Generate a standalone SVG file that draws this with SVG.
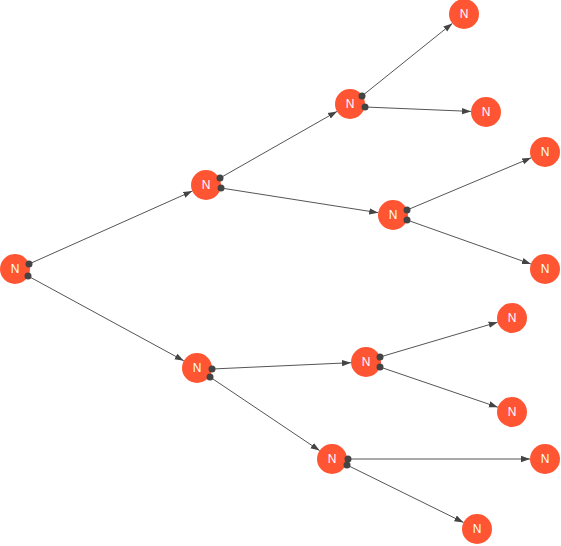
<svg xmlns="http://www.w3.org/2000/svg" width="561" height="546" viewBox="0 0 561 546">
<style>
.n circle{fill:#ff5533}
.n text{fill:#fff;font-family:"Liberation Sans",Arial,sans-serif;font-size:12px;text-anchor:middle;dominant-baseline:central}
.e line{stroke:#555;stroke-width:1;marker-end:url(#arr)}
.e circle{fill:#444}
</style>
<defs>
<marker id="arr" viewBox="0 0 10 10" markerUnits="userSpaceOnUse" markerWidth="9" markerHeight="9" refX="10" refY="5" orient="auto">
<path d="M0,1.5 L10,5 L0,8.5 z" fill="#444"/>
</marker>
</defs>
<rect width="561" height="546" fill="#fff"/>
<g id="root" class="n"><circle cx="15" cy="269" r="15"/><text x="15" y="269">N</text></g>
<g id="A" class="n"><circle cx="206" cy="185" r="15"/><text x="206" y="185">N</text></g>
<g id="B" class="n"><circle cx="197" cy="368" r="15"/><text x="197" y="368">N</text></g>
<g id="A1" class="n"><circle cx="350" cy="104" r="15"/><text x="350" y="104">N</text></g>
<g id="A2" class="n"><circle cx="393" cy="215" r="15"/><text x="393" y="215">N</text></g>
<g id="A1a" class="n"><circle cx="464" cy="14" r="15"/><text x="464" y="14">N</text></g>
<g id="A1b" class="n"><circle cx="486" cy="112" r="15"/><text x="486" y="112">N</text></g>
<g id="A2a" class="n"><circle cx="545" cy="152" r="15"/><text x="545" y="152">N</text></g>
<g id="A2b" class="n"><circle cx="545" cy="269" r="15"/><text x="545" y="269">N</text></g>
<g id="B1" class="n"><circle cx="366" cy="362" r="15"/><text x="366" y="362">N</text></g>
<g id="B2" class="n"><circle cx="332" cy="459" r="15"/><text x="332" y="459">N</text></g>
<g id="B1a" class="n"><circle cx="512" cy="318" r="15"/><text x="512" y="318">N</text></g>
<g id="B1b" class="n"><circle cx="512" cy="412" r="15"/><text x="512" y="412">N</text></g>
<g id="B2a" class="n"><circle cx="545" cy="459" r="15"/><text x="545" y="459">N</text></g>
<g id="B2b" class="n"><circle cx="477" cy="529" r="15"/><text x="477" y="529">N</text></g>
<g id="connectors" class="e">
<line x1="29" y1="264" x2="192.3" y2="191.1"/>
<line x1="28" y1="276" x2="183.8" y2="360.8"/>
<line x1="220" y1="178" x2="337" y2="111.4"/>
<line x1="221" y1="188" x2="378.2" y2="212.7"/>
<line x1="362" y1="96" x2="452.3" y2="23.4"/>
<line x1="365" y1="107" x2="471" y2="111.4"/>
<line x1="407" y1="210" x2="531.2" y2="157.8"/>
<line x1="407" y1="220" x2="530.9" y2="264"/>
<line x1="212" y1="369" x2="351" y2="362.7"/>
<line x1="210" y1="377" x2="319.6" y2="450.6"/>
<line x1="380" y1="357" x2="497.6" y2="322.2"/>
<line x1="380" y1="367" x2="497.8" y2="407.2"/>
<line x1="348" y1="459" x2="530" y2="459"/>
<line x1="347" y1="465" x2="463.5" y2="522.4"/>
<circle cx="29" cy="264" r="3.5"/><circle cx="28" cy="276" r="3.5"/>
<circle cx="220" cy="178" r="3.5"/><circle cx="221" cy="188" r="3.5"/>
<circle cx="362" cy="96" r="3.5"/><circle cx="365" cy="107" r="3.5"/>
<circle cx="407" cy="210" r="3.5"/><circle cx="407" cy="220" r="3.5"/>
<circle cx="212" cy="369" r="3.5"/><circle cx="210" cy="377" r="3.5"/>
<circle cx="380" cy="357" r="3.5"/><circle cx="380" cy="367" r="3.5"/>
<circle cx="348" cy="459" r="3.5"/><circle cx="347" cy="465" r="3.5"/>
</g>
</svg>
